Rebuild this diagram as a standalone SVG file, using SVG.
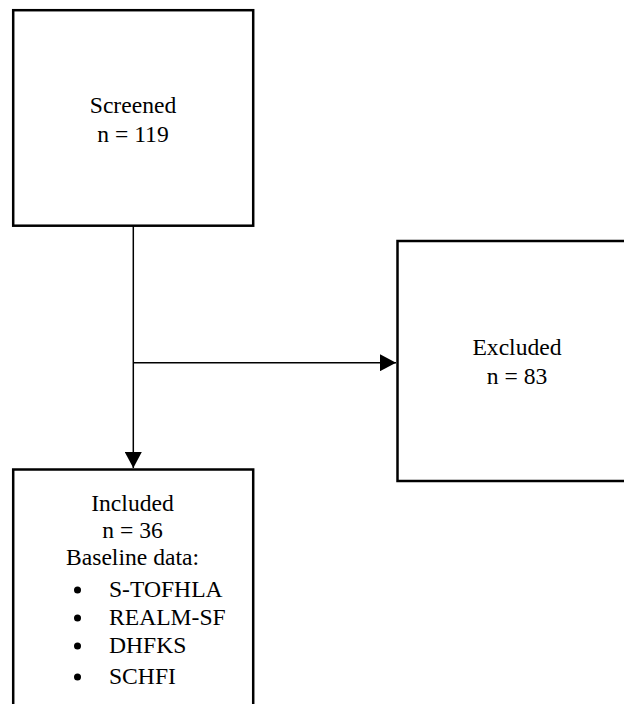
<svg xmlns="http://www.w3.org/2000/svg" width="624" height="704" viewBox="0 0 624 704">
<defs>
<style>
.box{fill:#fff;stroke:#000;stroke-width:2.5}
.t{font-family:"Liberation Serif","Times New Roman",serif;font-size:23.6px;fill:#000}
.c{text-anchor:middle}
.ln{stroke:#000;stroke-width:1.5;fill:none}
</style>
<marker id="ah" markerUnits="userSpaceOnUse" markerWidth="16" markerHeight="17" refX="16" refY="8.5" orient="auto">
<path d="M0,0 L16,8.5 L0,17 Z" fill="#000"/>
</marker>
</defs>
<rect width="624" height="704" fill="#fff"/>
<g id="connectors">
<line class="ln" x1="133.3" y1="226" x2="133.3" y2="468" marker-end="url(#ah)"/>
<line class="ln" x1="133.3" y1="362.7" x2="396" y2="362.7" marker-end="url(#ah)"/>
</g>
<g id="screened">
<rect class="box" x="13.2" y="10.2" width="240" height="215.5"/>
<text class="t c" x="133" y="113">Screened</text>
<text class="t c" x="133" y="141.5">n = 119</text>
</g>
<g id="excluded">
<rect class="box" x="397.5" y="241" width="240" height="240"/>
<text class="t c" x="517" y="355">Excluded</text>
<text class="t c" x="517" y="384">n = 83</text>
</g>
<g id="included">
<rect class="box" x="13.2" y="469.5" width="240" height="250"/>
<text class="t c" x="132.5" y="511">Included</text>
<text class="t c" x="132.5" y="538">n = 36</text>
<text class="t c" x="132.5" y="565">Baseline data:</text>
<g class="t">
<circle cx="77.5" cy="590" r="3.5"/>
<text x="109" y="597">S-TOFHLA</text>
<circle cx="77.5" cy="618" r="3.5"/>
<text x="109" y="625">REALM-SF</text>
<circle cx="77.5" cy="646" r="3.5"/>
<text x="109" y="653">DHFKS</text>
<circle cx="77.5" cy="677" r="3.5"/>
<text x="109" y="684">SCHFI</text>
</g>
</g>
</svg>
